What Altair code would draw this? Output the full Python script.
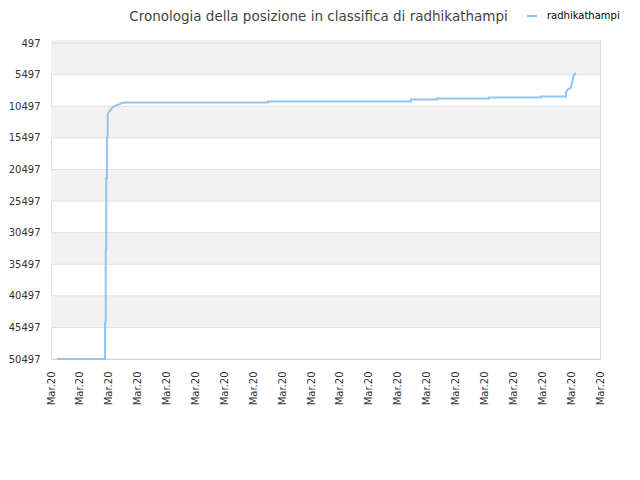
import altair as alt
import pandas as pd

# ---- data ----
series_name = "radhikathampi"
title_text = "Cronologia della posizione in classifica di radhikathampi"

tick_positions = list(range(20))
tick_label = "Mar.20"
y_ticks = [497, 5497, 10497, 15497, 20497, 25497, 30497, 35497, 40497, 45497, 50497]
band_start = [1, 10497, 20497, 30497, 40497]
band_end = [5497, 15497, 25497, 35497, 45497]

t = [0.218, 1.869, 1.869, 1.893, 1.893, 1.913, 1.913, 1.938, 1.938, 1.962, 1.962,
     2.007, 2.042, 2.111, 2.215, 2.318, 2.422, 2.561, 7.498, 7.498, 12.457, 12.457,
     13.346, 13.346, 15.156, 15.156, 16.955, 16.955, 17.820, 17.820, 17.889, 17.993,
     18.028, 18.062, 18.097, 18.166]
rank = [50490, 50490, 44793, 44793, 33197, 33197, 21854, 21854, 15273, 15273, 11840,
        11365, 11207, 10732, 10416, 10258, 10021, 9894, 9894, 9736, 9736, 9419,
        9419, 9261, 9261, 9103, 9103, 8945, 8945, 8249, 7806, 7569,
        6777, 6145, 5512, 5243]

W, H = 549, 319
LINE_COLOR = "#91c3f3"

x_scale = alt.Scale(domain=[0, 19], nice=False, zero=False)
y_scale = alt.Scale(domain=[1, 50497], reverse=True, nice=False, zero=False)

y_axis = alt.Axis(
    values=y_ticks,
    format="d",
    ticks=False,
    grid=False,
    domain=False,
    title=None,
    labelPadding=11,
    labelOverlap=False,
    labelFlush=False,
)

x_axis = alt.Axis(
    values=tick_positions,
    labelExpr=f"'{tick_label}'",
    labelAngle=-90,
    labelAlign="right",
    labelBaseline="middle",
    labelPadding=12,
    ticks=False,
    grid=False,
    domain=True,
    domainColor="#cccccc",
    title=None,
    labelOverlap=False,
    labelFlush=False,
)

bands = alt.Chart(pd.DataFrame({"b0": band_start, "b1": band_end})).mark_rect(
    color="#f2f2f2"
).encode(
    x=alt.value(0),
    x2=alt.value(W),
    y=alt.Y("b0:Q", scale=y_scale, axis=y_axis),
    y2="b1:Q",
)

grid = alt.Chart(pd.DataFrame({"g": y_ticks})).mark_rule(
    color="#e0e0e0", strokeWidth=1
).encode(
    y=alt.Y("g:Q", scale=y_scale, axis=y_axis),
)

df = pd.DataFrame({"t": t, "rank": rank, "series": [series_name] * len(t)})

line = alt.Chart(df).mark_line(strokeWidth=2, interpolate="linear").encode(
    x=alt.X("t:Q", scale=x_scale, axis=x_axis),
    y=alt.Y("rank:Q", scale=y_scale, axis=y_axis),
    color=alt.Color(
        "series:N",
        scale=alt.Scale(range=[LINE_COLOR]),
        legend=alt.Legend(
            title=None,
            orient="none",
            legendX=475,
            legendY=-30,
            symbolType="stroke",
            symbolStrokeWidth=2,
            symbolSize=100,
            labelOffset=9,
            labelFontSize=10,
            labelColor="#000000",
            labelFont="DejaVu Sans",
        ),
    ),
)

chart = alt.layer(bands, grid, line).properties(
    width=W,
    height=H,
    autosize=alt.AutoSizeParams(type="none"),
    padding={"left": 43, "top": 32, "right": 30, "bottom": 90},
    title=alt.TitleParams(
        title_text,
        fontSize=13.5,
        font="DejaVu Sans",
        fontWeight="normal",
        color="#444444",
        anchor="middle",
        dx=-7,
        offset=-13,
    ),
).configure_view(
    stroke="#dddddd", strokeWidth=1
).configure_axis(
    labelFont="DejaVu Sans", labelFontSize=10, labelColor="#333333"
)

chart.save("out.html", embed_options={"renderer": "svg", "actions": False})
